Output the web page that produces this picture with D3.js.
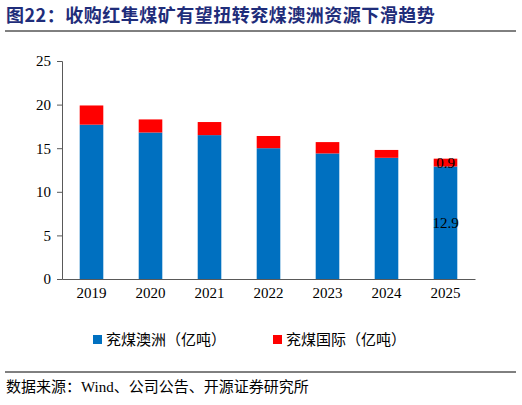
<!DOCTYPE html>
<html><head><meta charset="utf-8">
<script src="https://cdn.jsdelivr.net/npm/d3@7"></script>
<style>body{margin:0;background:#fff}</style>
</head><body>
<div id="chart"></div>
<script>
const years = ['2019', '2020', '2021', '2022', '2023', '2024', '2025'];
const australia = [17.7, 16.8, 16.5, 15.0, 14.4, 13.9, 12.9];
const international = [2.2, 1.5, 1.5, 1.4, 1.3, 0.9, 0.9];
const yTicks = [0, 5, 10, 15, 20, 25];

const width = 522, height = 405;
const svg = d3.select('#chart').append('svg').attr('width', width).attr('height', height);
const serif = '"Times New Roman", "Liberation Serif", "Noto Sans CJK SC", serif';
const cjk = '"Noto Sans CJK SC", serif';

// Title
svg.append('text').attr('x', 6).attr('y', 22)
  .attr('fill', '#1f2d7a').attr('font-size', '18px').attr('font-weight', 'bold')
  .attr('font-family', cjk).attr('letter-spacing', '0.5px')
  .text('图22：收购红隼煤矿有望扭转兖煤澳洲资源下滑趋势');
svg.append('line').attr('x1', 5).attr('x2', 516).attr('y1', 31).attr('y2', 31)
  .attr('stroke', '#000').attr('stroke-width', 1);

const x = d3.scaleBand().domain(years).range([62, 475]).paddingInner(0.6).paddingOuter(0.3);
const y = d3.scaleLinear().domain([0, 25]).range([279, 61]);

const g = svg.append('g');
g.selectAll('.au').data(australia).enter().append('rect')
  .attr('x', (d, i) => x(years[i])).attr('width', x.bandwidth())
  .attr('y', d => y(d)).attr('height', d => y(0) - y(d)).attr('fill', '#0070c0');
g.selectAll('.intl').data(international).enter().append('rect')
  .attr('x', (d, i) => x(years[i])).attr('width', x.bandwidth())
  .attr('y', (d, i) => y(d + australia[i])).attr('height', d => y(0) - y(d)).attr('fill', '#ff0000');

// Labels for last bar
const last = years.length - 1;
g.append('text').attr('x', x(years[last]) + x.bandwidth() / 2).attr('y', y(australia[last] + international[last] / 2))
  .attr('dy', '0.35em').attr('text-anchor', 'middle').attr('font-size', '15px').attr('font-family', serif)
  .text(international[last].toFixed(1));
g.append('text').attr('x', x(years[last]) + x.bandwidth() / 2).attr('y', y(australia[last] / 2))
  .attr('dy', '0.35em').attr('text-anchor', 'middle').attr('font-size', '15px').attr('font-family', serif)
  .text(australia[last].toFixed(1));

// Axes
const xa = svg.append('g').attr('transform', `translate(0,${y(0)})`)
  .call(d3.axisBottom(x).tickSize(0).tickPadding(8));
xa.select('.domain').attr('stroke', '#595959');
xa.selectAll('text').attr('font-size', '15px').attr('font-family', serif).attr('fill', '#000');

const ya = svg.append('g').attr('transform', 'translate(62,0)')
  .call(d3.axisLeft(y).tickValues(yTicks).tickSize(5).tickPadding(6));
ya.select('.domain').attr('stroke', '#595959');
ya.selectAll('line').attr('stroke', '#595959');
ya.selectAll('text').attr('font-size', '15px').attr('font-family', serif).attr('fill', '#000');

// Legend
const legend = svg.append('g').attr('transform', 'translate(93,340)');
[['兖煤澳洲（亿吨）', '#0070c0', 0], ['兖煤国际（亿吨）', '#ff0000', 180]].forEach(([t, c, dx]) => {
  legend.append('rect').attr('x', dx).attr('y', -5).attr('width', 9).attr('height', 9).attr('fill', c);
  legend.append('text').attr('x', dx + 13).attr('y', 0).attr('dy', '0.35em')
    .attr('font-size', '15px').attr('font-family', cjk).attr('fill', '#000').text(t);
});

// Source
svg.append('line').attr('x1', 5).attr('x2', 516).attr('y1', 372).attr('y2', 372)
  .attr('stroke', '#000').attr('stroke-width', 1);
svg.append('text').attr('x', 6).attr('y', 392).attr('font-size', '15px').attr('font-family', serif)
  .attr('fill', '#000').text('数据来源：Wind、公司公告、开源证券研究所');
</script>
</body></html>
